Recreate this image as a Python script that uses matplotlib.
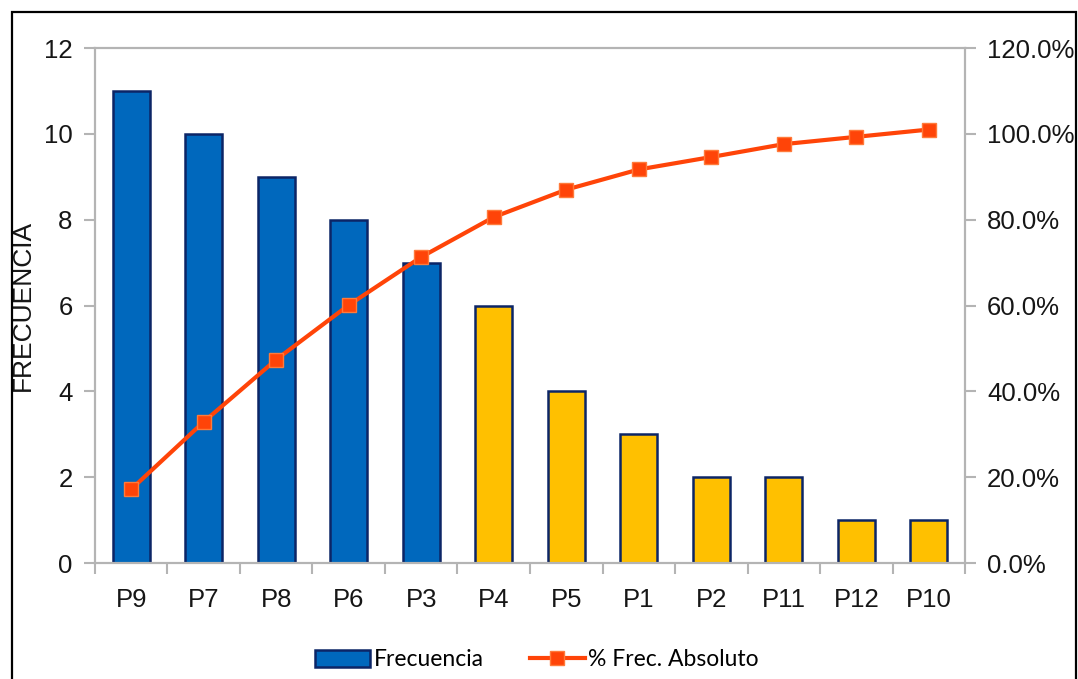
import matplotlib
matplotlib.use("Agg")
import matplotlib.pyplot as plt
from matplotlib.patches import Rectangle, Patch
from matplotlib.lines import Line2D
from matplotlib.ticker import FixedLocator, PercentFormatter

# Pareto data
categories = ["P9", "P7", "P8", "P6", "P3", "P4", "P5", "P1", "P2", "P11", "P12", "P10"]
frecuencia = [11, 10, 9, 8, 7, 6, 4, 3, 2, 2, 1, 1]
pct_acumulado = [17.2, 32.9, 47.4, 60.1, 71.3, 80.6, 87.0, 91.7, 94.6, 97.6, 99.3, 101.0]
vital_few = 5  # first categories highlighted in blue

left_ticks = [0, 2, 4, 6, 8, 10, 12]
right_ticks = [0, 20, 40, 60, 80, 100, 120]

BLUE = "#0068BD"
YELLOW = "#FFC000"
EDGE = "#0C2566"
ORANGE = "#FF4408"
GRID_GRAY = "#B4B4B4"
TEXT = "#161616"

plt.rcParams["font.family"] = ["Liberation Sans", "DejaVu Sans"]

fig = plt.figure(figsize=(10.78, 6.79), dpi=100)
fig.patch.set_facecolor("white")
ax = fig.add_axes([0.0881, 0.1708, 0.8071, 0.7585])
ax2 = ax.twinx()

x = list(range(len(categories)))
colors = [BLUE if i < vital_few else YELLOW for i in x]
ax.bar(x, frecuencia, width=0.51, color=colors, edgecolor=EDGE, linewidth=1.8, zorder=2)

ax2.plot(x, pct_acumulado, color=ORANGE, linewidth=3.0, marker="s", markersize=10,
         markerfacecolor=ORANGE, markeredgecolor="#FF7A3A", markeredgewidth=1.0,
         zorder=3, solid_capstyle="round")

# Axis limits and ticks
ax.set_xlim(-0.5, len(categories) - 0.5)
ax.set_ylim(0, 12)
ax2.set_ylim(0, 120)
ax.set_yticks(left_ticks)
ax2.set_yticks(right_ticks)
ax2.yaxis.set_major_formatter(PercentFormatter(decimals=1))

ax.set_xticks(x)
ax.set_xticklabels(categories)
ax.xaxis.set_minor_locator(FixedLocator([i + 0.5 for i in range(-1, len(categories))]))

ax.tick_params(axis="x", which="major", length=0, pad=18, labelsize=18.5, colors=TEXT)
ax.tick_params(axis="x", which="minor", length=8, width=1.5, color=GRID_GRAY, direction="out")
ax.tick_params(axis="y", length=8, width=1.5, color=GRID_GRAY, pad=8, labelsize=18.5,
               labelcolor=TEXT)
ax2.tick_params(axis="y", length=8, width=1.5, color=GRID_GRAY, pad=8, labelsize=18.5,
                labelcolor=TEXT)

for a in (ax, ax2):
    for s in a.spines.values():
        s.set_color(GRID_GRAY)
        s.set_linewidth(1.5)

ax.set_ylabel("FRECUENCIA", fontsize=19, color=TEXT)
ax.yaxis.set_label_coords(-60 / 870, 0.5)

ax.set_zorder(ax2.get_zorder() - 1)
ax.patch.set_visible(True)
ax2.patch.set_visible(False)

# Legend below the plot
handles = [
    Patch(facecolor=BLUE, edgecolor=EDGE, linewidth=1.8),
    Line2D([0], [0], color=ORANGE, linewidth=3.0, marker="s", markersize=10,
           markerfacecolor=ORANGE, markeredgecolor="#FF7A3A"),
]
fig.legend(handles, ["Frecuencia", "% Frec. Absoluto"], loc="center",
           bbox_to_anchor=(537 / 1078, 1 - 660 / 679), ncol=2, frameon=False,
           prop={"family": ["Lato", "DejaVu Sans"], "size": 16.5},
           handlelength=2.4, handleheight=0.8, handletextpad=0.15, columnspacing=2.0)

# Outer frame
fig.add_artist(Rectangle((12 / 1078, -0.05), (1076 - 12) / 1078, 1 - 12 / 679 + 0.05,
                         transform=fig.transFigure, fill=False, edgecolor="black",
                         linewidth=1.6, zorder=10))

fig.savefig("out.png", dpi=100)
